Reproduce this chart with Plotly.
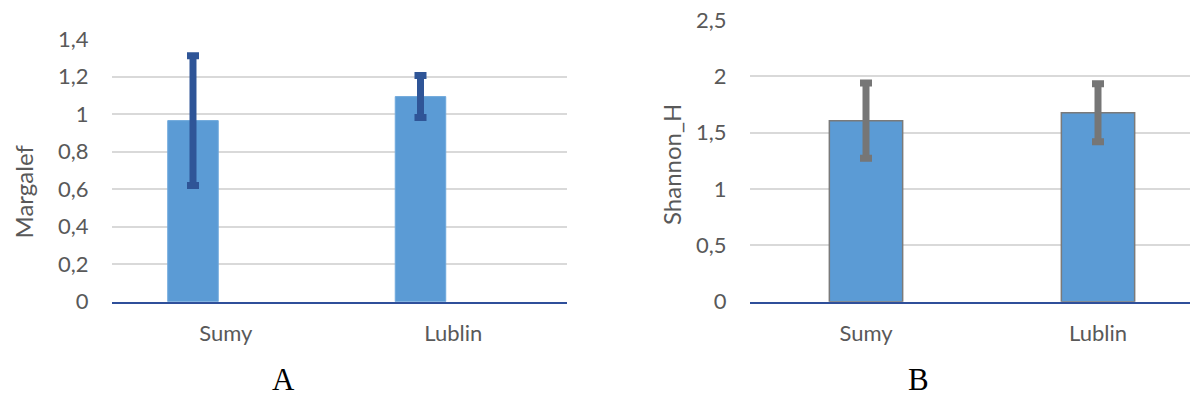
import plotly.graph_objects as go

# ---- data ----
sites = ["Sumy", "Lublin"]
margalef_mean = [0.965, 1.093]
margalef_err = [0.346, 0.112]
shannon_mean = [1.606, 1.677]
shannon_err = [0.334, 0.257]
margalef_ticks = [0, 0.2, 0.4, 0.6, 0.8, 1.0, 1.2, 1.4]
margalef_ticktext = ["0", "0,2", "0,4", "0,6", "0,8", "1", "1,2", "1,4"]
shannon_ticks = [0, 0.5, 1.0, 1.5, 2.0, 2.5]
shannon_ticktext = ["0", "0,5", "1", "1,5", "2", "2,5"]
panel_labels = ["A", "B"]
y_titles = ["Margalef", "Shannon_H"]

W, H = 1190, 398
BAR = "#5B9BD5"
TICKFONT = dict(family="Lato", size=22, color="#595959")
TITLEFONT = dict(family="Lato", size=24, color="#595959")
LABELFONT = dict(family="Liberation Serif", size=31, color="#000000")

fig = go.Figure()
fig.add_trace(go.Bar(
    x=sites, y=margalef_mean, xaxis="x", yaxis="y",
    offset=-0.255, width=0.222,
    marker=dict(color=BAR, line=dict(color="#6FA8DC", width=1)),
    error_y=dict(type="data", array=margalef_err, visible=True,
                 color="#2F5597", thickness=7, width=6),
    showlegend=False,
))
fig.add_trace(go.Bar(
    x=sites, y=shannon_mean, xaxis="x2", yaxis="y2",
    width=0.316,
    marker=dict(color=BAR, line=dict(color="#7A7A7A", width=1.5)),
    error_y=dict(type="data", array=shannon_err, visible=True,
                 color="#767676", thickness=7, width=6),
    showlegend=False,
))

def px_x(p):
    return p / W

def px_y(p):
    return (H - p) / H

xaxis_common = dict(showline=True, linecolor="#2F4F9A", linewidth=2,
                    ticks="outside", tickcolor="rgba(0,0,0,0)", ticklen=11,
                    tickfont=TICKFONT, showgrid=False, fixedrange=True,
                    automargin=False)
yaxis_common = dict(showgrid=True, gridcolor="#D9D9D9", gridwidth=1.5,
                    zeroline=False, ticks="outside", tickcolor="rgba(0,0,0,0)",
                    ticklen=18, tickfont=TICKFONT, fixedrange=True,
                    automargin=False)

fig.update_layout(
    width=W, height=H,
    margin=dict(l=0, r=0, t=0, b=0, autoexpand=False),
    paper_bgcolor="white", plot_bgcolor="white",
    xaxis=dict(domain=[px_x(112), px_x(567)], anchor="y",
               range=[-0.5, 1.5], **xaxis_common),
    xaxis2=dict(domain=[px_x(750), 1.0], anchor="y2",
                range=[-0.5, -0.5 + 440 / 232], **xaxis_common),
    yaxis=dict(domain=[px_y(301.7), px_y(39)], anchor="x",
               range=[0, 1.4], tickvals=margalef_ticks, ticktext=margalef_ticktext,
               **yaxis_common),
    yaxis2=dict(domain=[px_y(301.7), px_y(20)], anchor="x2",
                range=[0, 2.5], tickvals=shannon_ticks, ticktext=shannon_ticktext,
                **yaxis_common),
    annotations=[
        dict(text=y_titles[0], x=px_x(22.5), y=px_y(192), xref="paper", yref="paper",
             textangle=-90, showarrow=False, font=TITLEFONT,
             xanchor="center", yanchor="middle"),
        dict(text=y_titles[1], x=px_x(672), y=px_y(165), xref="paper", yref="paper",
             textangle=-90, showarrow=False, font=TITLEFONT,
             xanchor="center", yanchor="middle"),
        dict(text=panel_labels[0], x=px_x(283), y=0, xref="paper", yref="paper",
             showarrow=False, font=LABELFONT, borderpad=0,
             xanchor="center", yanchor="bottom"),
        dict(text=panel_labels[1], x=px_x(918), y=0, xref="paper", yref="paper",
             showarrow=False, font=LABELFONT, borderpad=0,
             xanchor="center", yanchor="bottom"),
    ],
)

fig.write_html("out.html", config={"displayModeBar": False})
